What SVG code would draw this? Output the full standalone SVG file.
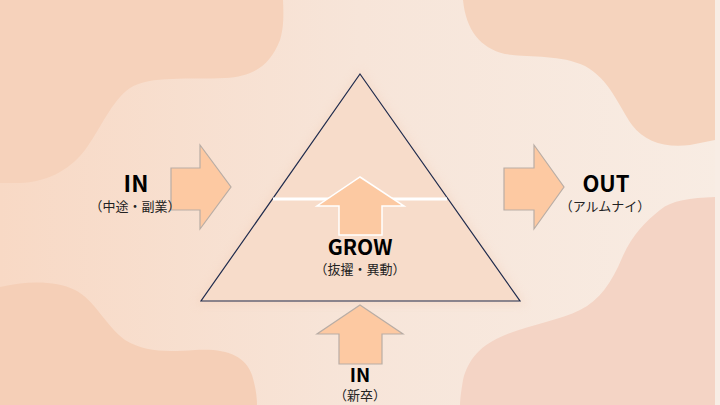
<svg xmlns="http://www.w3.org/2000/svg" width="720" height="405" viewBox="0 0 720 405">
  <defs>
    <linearGradient id="bg" x1="0" y1="0" x2="1" y2="0">
      <stop offset="0" stop-color="#f8d9c5"/>
      <stop offset="0.5" stop-color="#f7e5d9"/>
      <stop offset="1" stop-color="#f8ece3"/>
    </linearGradient>
    <filter id="soft" x="-20%" y="-20%" width="140%" height="140%">
      <feGaussianBlur stdDeviation="5"/>
    </filter>
    <style>
      .blob { stroke: none; }
      .blockArrow { fill: #fdc9a2; stroke: #b9ada5; stroke-width: 1.2; }
      .label { font-family: "Noto Sans CJK JP", "Noto Sans", sans-serif; font-weight: 700; fill: #000; text-anchor: middle; }
      .sub { font-family: "Noto Sans CJK JP", "Noto Sans", sans-serif; font-weight: 400; fill: #222; text-anchor: middle; }
    </style>
  </defs>

  <g id="background">
    <rect x="0" y="0" width="720" height="405" fill="url(#bg)"/>
    <path class="blob" fill="#f6d2bb" d="M0,0 H283 C284,20 283,30 280,40 C270,65 255,76 225,78 C190,80 150,75 130,88 C112,100 100,130 85,150 C68,172 45,182 20,183 H0 Z"/>
    <path class="blob" fill="#f5d3bd" d="M463,0 C466,30 480,48 505,54 C530,58 560,54 585,66 C610,80 618,105 632,125 C645,142 665,148 690,145 L715,140 V0 Z"/>
    <path class="blob" fill="#f5cfb7" d="M0,287 C25,281 55,280 75,290 C95,300 105,325 125,340 C145,352 165,352 195,350 C225,348 245,355 252,375 C256,388 257,398 257,405 H0 Z"/>
    <path class="blob" fill="#f4d4c5" d="M715,197 C690,198 672,200 660,210 C645,222 632,235 622,258 C612,282 600,300 580,310 C560,320 530,325 505,335 C480,345 468,360 463,380 C461,392 460,400 460,405 H715 Z"/>
    <rect x="715" y="0" width="5" height="405" fill="#f8ede5"/>
  </g>

  <g id="pyramid">
    <path d="M360,70 L526,305 L195,305 Z" fill="#f3cdb6" opacity="0.4" filter="url(#soft)"/>
    <path d="M360,74 L520,301 L201,301 Z" fill="#f7dcca" stroke="#1f2b4d" stroke-width="1.2" stroke-linejoin="miter"/>
    <line x1="273" y1="199" x2="447" y2="199" stroke="#ffffff" stroke-width="3"/>
  </g>

  <g id="connectors">
    <path id="arrow-in-left" class="blockArrow" d="M171,168 H200 V145 L231,187 L200,229 V210 H171 Z"/>
    <path id="arrow-out" class="blockArrow" d="M504,168 H534 V145 L564,187 L534,229 V210 H504 Z"/>
    <path id="arrow-in-bottom" class="blockArrow" d="M360,305 L403,334 H382 V364 H339 V334 H317 Z"/>
    <path id="arrow-grow" d="M360,177 L404,206 H382 V235 H339 V206 H317 Z" fill="#fcc9a2" stroke="#ffffff" stroke-width="1.5"/>
  </g>

  <g id="node-in-left">
    <text class="label" x="136" y="192" font-size="23">IN</text>
    <text class="sub" x="135" y="211" font-size="13">（中途・副業）</text>
  </g>

  <g id="node-out">
    <text class="label" x="606" y="192" font-size="22">OUT</text>
    <text class="sub" x="605" y="211" font-size="13">（アルムナイ）</text>
  </g>

  <g id="node-grow">
    <text class="label" x="360" y="255" font-size="21">GROW</text>
    <text class="sub" x="360" y="274" font-size="13">（抜擢・異動）</text>
  </g>

  <g id="node-in-bottom">
    <text class="label" x="360" y="382" font-size="19">IN</text>
    <text class="sub" x="360" y="400" font-size="13">（新卒）</text>
  </g>
</svg>
